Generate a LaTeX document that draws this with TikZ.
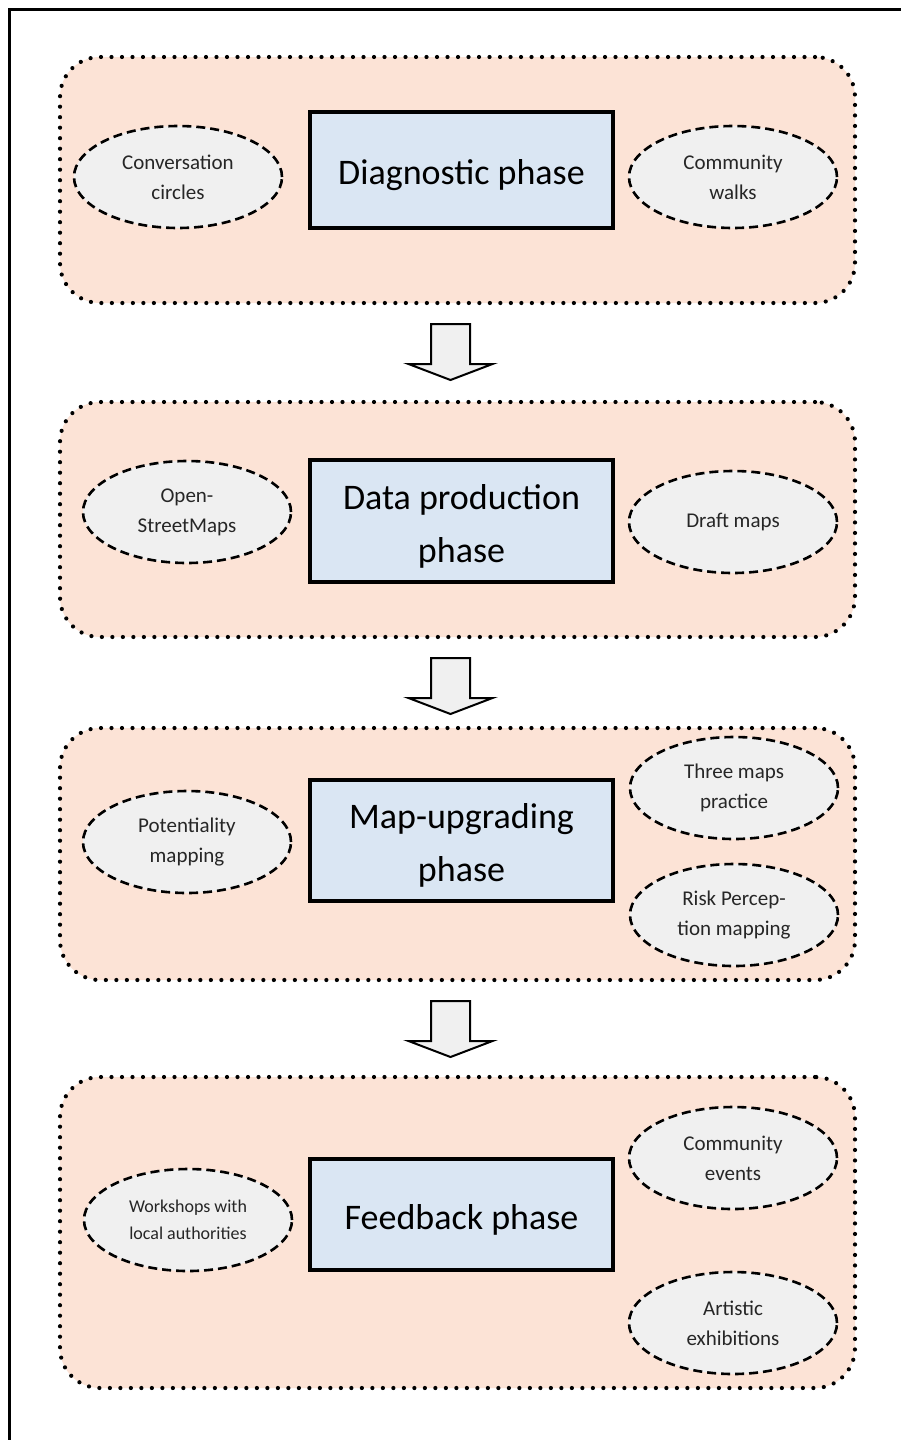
\documentclass[tikz,border=0pt]{standalone}
\usepackage{fontspec}
\setmainfont{Carlito}
\usetikzlibrary{shapes.geometric}
\definecolor{peach}{RGB}{252,227,214}
\definecolor{boxblue}{RGB}{218,230,243}
\definecolor{ellgray}{RGB}{240,240,240}
\definecolor{txtgray}{RGB}{38,38,38}
\newcommand{\phasetext}[1]{\raisebox{-4pt}[\height][\depth]{\begin{tabular}{@{}c@{}}#1\end{tabular}}}
\tikzset{
  container/.style={draw, rounded corners=40pt, fill=peach, line width=4.2pt,
    dash pattern=on 0pt off 10.5pt, line cap=round, minimum width=795pt, inner sep=0pt},
  phasebox/.style={draw, line width=4.5pt, fill=boxblue, minimum width=303pt, inner sep=0pt,
    font=\fontsize{36}{53}\selectfont},
  method/.style={ellipse, draw, line width=2.6pt, dash pattern=on 9pt off 5pt,
    fill=ellgray, minimum width=208pt, minimum height=102pt, inner sep=0pt,
    font=\fontsize{21}{30}\selectfont, align=center, text=txtgray},
  blockarrow/.style={draw, line width=2pt, fill=ellgray, line join=miter},
}
\newcommand{\blockarr}[2]{%
  \draw[blockarrow] (#1-19.5,#2) -- (#1+19.5,#2) -- (#1+19.5,#2+40)
    -- (#1+42,#2+40) -- (#1,#2+56) -- (#1-42,#2+40) -- (#1-19.5,#2+40) -- cycle;}
\begin{document}
\begin{tikzpicture}[x=1pt,y=-1pt]
\useasboundingbox (0,0) rectangle (901,1440);
\clip (0,0) rectangle (901,1440);
\draw[line width=3pt] (9,1460) -- (9,9) -- (920,9);

% phase 1
\node[container, minimum height=246pt] (c1) at (457.5,180) {};
\node[phasebox, minimum height=116pt] (p1) at (461.5,170) {\phasetext{Diagnostic phase}};
\node[method] (m11) at (178,177) {Conversation\\circles};
\node[method] (m12) at (733,177) {Community\\walks};

% phase 2
\node[container, minimum height=235pt] (c2) at (457.5,519.5) {};
\node[phasebox, minimum height=122pt] (p2) at (461.5,521) {\phasetext{Data production\\phase}};
\node[method] (m21) at (187,512) {Open-\\StreetMaps};
\node[method] (m22) at (733,522) {Draft maps};

% phase 3
\node[container, minimum height=252pt] (c3) at (457.5,854) {};
\node[phasebox, minimum height=121pt] (p3) at (461.5,840.5) {\phasetext{Map-upgrading\\phase}};
\node[method] (m31) at (187,842) {Potentiality\\mapping};
\node[method] (m32) at (734,788) {Three maps\\practice};
\node[method] (m33) at (734,915) {Risk Percep-\\tion mapping};

% phase 4
\node[container, minimum height=311pt] (c4) at (457.5,1232.5) {};
\node[phasebox, minimum height=111pt] (p4) at (461.5,1214.5) {\phasetext{Feedback phase}};
\node[method, font=\fontsize{18}{27}\selectfont] (m41) at (188,1220) {Workshops with\\local authorities};
\node[method] (m42) at (733,1158) {Community\\events};
\node[method] (m43) at (733,1323) {Artistic\\exhibitions};

% block arrows between phases
\blockarr{450.5}{324}
\blockarr{450.5}{658}
\blockarr{450.5}{1001}
\end{tikzpicture}
\end{document}
